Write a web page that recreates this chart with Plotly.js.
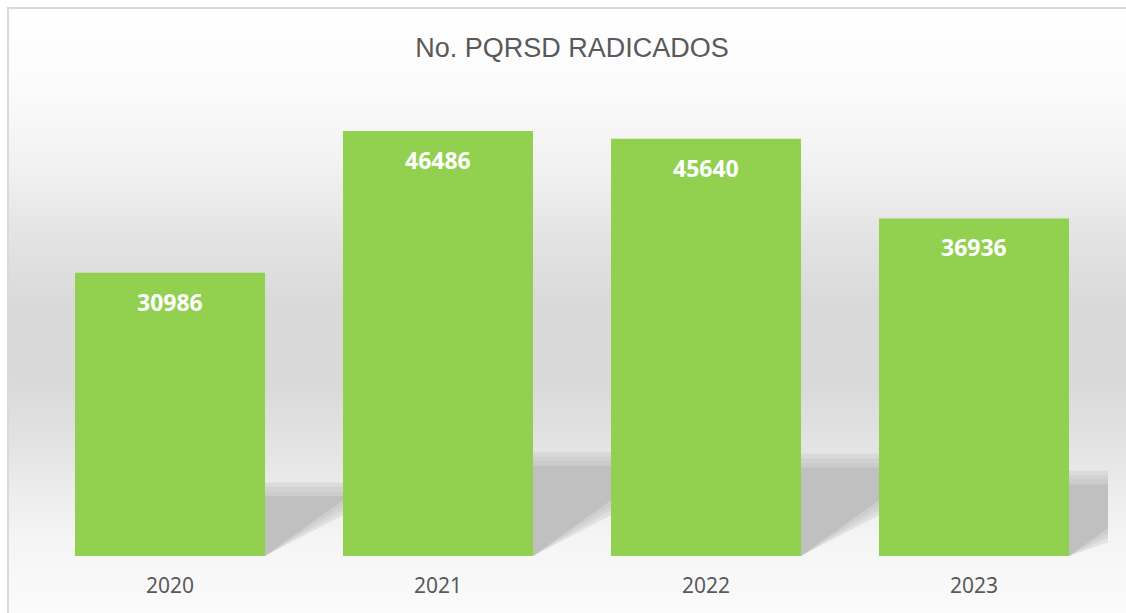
<!DOCTYPE html>
<html>
<head>
<meta charset="utf-8">
<script src="https://cdn.plot.ly/plotly-3.0.1.min.js"></script>
<style>
  html, body { margin: 0; padding: 0; background: #ffffff; }
  #wrap { position: relative; width: 1126px; height: 613px; overflow: hidden; }
  #bg {
    position: absolute; left: 7px; top: 7px; right: 0; bottom: 0;
    border-top: 2px solid #dadada; border-left: 2px solid #dadada;
    background: linear-gradient(to bottom,
      #ffffff 0px, #fbfbfb 80px, #f1f1f1 160px, #e3e3e3 230px,
      #d9d9d9 300px, #d9d9d9 370px, #e2e2e2 430px, #eaeaea 470px,
      #f5f5f5 530px, #fbfbfb 606px);
  }
  #chart { position: absolute; left: 0; top: 0; width: 1126px; height: 613px; }
</style>
</head>
<body>
<div id="wrap">
  <div id="bg"></div>
  <div id="chart"></div>
</div>
<script>
const categories = ["2020", "2021", "2022", "2023"];
const values = [30986, 46486, 45640, 36936];
const chartTitle = "No. PQRSD RADICADOS";

const positions = categories.map((c, i) => i);
const BARGAP = 0.291;
const half = (1 - BARGAP) / 2;
const shadowRatio = 0.212;      // shadow height relative to bar value
const risePerCat = 21000;       // diagonal rise of shadow edge (data units per category)

function shadowPath(i, grow) {
  const xL = positions[i] + half;
  const xR = (i < values.length - 1) ? (positions[i + 1] - half) : (positions[i] + 0.507);
  const top = values[i] * shadowRatio + grow * 500;
  const hR = (xR - xL) * risePerCat - grow * 550;
  const yR = Math.max(0, Math.min(top, hR));
  return `M ${xL} 0 L ${xL} ${top} L ${xR} ${top} L ${xR} ${yR} Z`;
}

const shapes = [];
values.forEach((v, i) => {
  [3, 2, 1].forEach(g => {
    shapes.push({
      type: "path", xref: "x", yref: "y", layer: "below",
      path: shadowPath(i, g),
      fillcolor: "rgba(192,192,192,0.33)", line: { width: 0 }
    });
  });
  shapes.push({
    type: "path", xref: "x", yref: "y", layer: "below",
    path: shadowPath(i, 0),
    fillcolor: "rgb(192,192,192)", line: { width: 0 }
  });
});

const annotations = values.map((v, i) => ({
  x: positions[i], y: v, xref: "x", yref: "y",
  text: String(v), showarrow: false, yanchor: "middle", yshift: -29,
  font: { family: "Noto Sans, Open Sans, sans-serif", size: 23, color: "#ffffff", weight: "bold" }
}));

const trace = {
  type: "bar",
  x: positions,
  y: values,
  marker: { color: "#92D050", line: { width: 0 } },
  hoverinfo: "y"
};

const layout = {
  width: 1126, height: 613,
  margin: { l: 36, r: 18, t: 99, b: 57 },
  paper_bgcolor: "rgba(0,0,0,0)",
  plot_bgcolor: "rgba(0,0,0,0)",
  bargap: BARGAP,
  showlegend: false,
  title: {
    text: chartTitle,
    x: 0.5, xref: "paper", xanchor: "center",
    y: 1 - 48 / 613, yref: "container", yanchor: "middle",
    font: { family: "Liberation Sans, Arial, sans-serif", size: 27, color: "#595959" }
  },
  xaxis: {
    type: "linear",
    range: [-0.5, categories.length - 0.5],
    tickmode: "array", tickvals: positions, ticktext: categories,
    showgrid: false, zeroline: false, showline: false, ticks: "",
    ticklabelstandoff: 15,
    tickfont: { family: "Noto Sans, Open Sans, sans-serif", size: 21, color: "#595959" }
  },
  yaxis: {
    range: [0, 50000],
    visible: false, showgrid: false, zeroline: false
  },
  shapes: shapes,
  annotations: annotations
};

Plotly.newPlot("chart", [trace], layout, { displayModeBar: false, staticPlot: true });
</script>
</body>
</html>
